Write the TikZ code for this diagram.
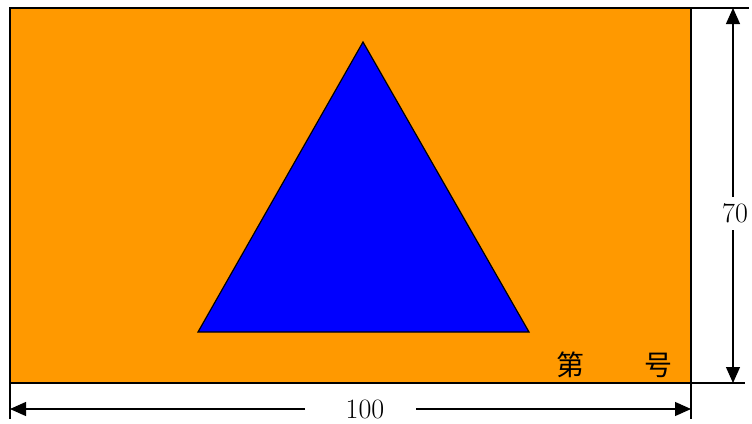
\documentclass[tikz,border=0pt]{standalone}
\usepackage{fontspec}
\newfontfamily\cjk{Noto Sans CJK SC}
\usetikzlibrary{arrows.meta}
\definecolor{flagorange}{HTML}{FF9900}
\definecolor{flagblue}{HTML}{0000FF}
\tikzset{
  dimline/.style={line width=1.2pt, black},
  dimarrow/.style={dimline, -{Triangle[length=16pt,width=14pt]}},
  dimlabel/.style={font=\fontsize{28}{30}\selectfont, inner sep=0pt},
  cjklabel/.style={font=\cjk\fontsize{28}{30}\selectfont, inner sep=0pt}
}
\begin{document}
\begin{tikzpicture}[x=1pt,y=-1pt]
\useasboundingbox (0,0) rectangle (752,423);
% flag
\draw[fill=flagorange, line width=2.2pt] (10,8) rectangle (691,383);
\coordinate (A) at (363,42);
\coordinate (B) at (198,332);
\coordinate (C) at (529,332);
\draw[fill=flagblue, line width=1.2pt, line join=miter] (A) -- (B) -- (C) -- cycle;
\node[cjklabel] (di) at (570,365) {第};
\node[cjklabel] (hao) at (658,365) {号};
% extension lines
\coordinate (tr) at (691,8);
\coordinate (trx) at (749,8);
\coordinate (br) at (691,383);
\coordinate (brx) at (745,383);
\coordinate (bl) at (10,383);
\coordinate (blx) at (10,419);
\coordinate (brd) at (691,419);
\draw[dimline] (tr) -- (trx);
\draw[dimline] (br) -- (brx);
\draw[dimline] (bl) -- (blx);
\draw[dimline] (br) -- (brd);
% vertical dimension
\node[dimlabel] (h) at (735,213) {70};
\coordinate (vt) at (733,8);
\coordinate (vb) at (733,383);
\coordinate (vts) at (733,197);
\coordinate (vbs) at (733,230);
\draw[dimarrow] (vts) -- (vt);
\draw[dimarrow] (vbs) -- (vb);
% horizontal dimension
\node[dimlabel] (w) at (365,409) {100};
\coordinate (hl) at (10,409);
\coordinate (hr) at (691,409);
\coordinate (hls) at (305,409);
\coordinate (hrs) at (416,409);
\draw[dimarrow] (hls) -- (hl);
\draw[dimarrow] (hrs) -- (hr);
\end{tikzpicture}
\end{document}
